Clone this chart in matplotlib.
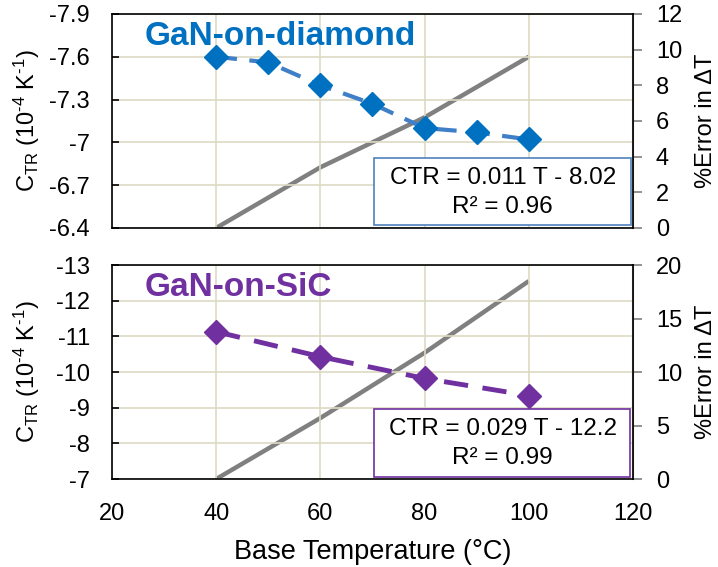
import matplotlib
matplotlib.use("Agg")
import matplotlib.pyplot as plt
from matplotlib.patches import Rectangle

plt.rcParams['font.family'] = ['Liberation Sans', 'DejaVu Sans']
plt.rcParams['mathtext.fontset'] = 'custom'
plt.rcParams['mathtext.rm'] = 'Liberation Sans'
plt.rcParams['mathtext.it'] = 'Liberation Sans:italic'

# ---- data ----
temp_dia = [40, 50, 60, 70, 80, 90, 100]
ctr_dia = [-7.60, -7.56, -7.40, -7.27, -7.10, -7.07, -7.02]
err_temp_dia = [40, 60, 80, 100]
err_dia = [0.0, 3.4, 6.2, 9.6]

temp_sic = [40, 60, 80, 100]
ctr_sic = [-11.13, -10.43, -9.82, -9.34]
err_temp_sic = [40, 60, 80, 100]
err_sic = [0.0, 5.7, 11.8, 18.5]

xticks = [20, 40, 60, 80, 100, 120]
yticks_dia = [-7.9, -7.6, -7.3, -7.0, -6.7, -6.4]
ylabels_dia = ['-7.9', '-7.6', '-7.3', '-7', '-6.7', '-6.4']
rticks_dia = [0, 2, 4, 6, 8, 10, 12]
yticks_sic = [-13, -12, -11, -10, -9, -8, -7]
rticks_sic = [0, 5, 10, 15, 20]

blue = '#0070C0'
blue_line = '#3F7FC8'
purple = '#7030A0'
gray = '#808080'
gridc = '#DDD9C3'
FS = 17

fig = plt.figure(figsize=(7.18, 5.67), dpi=100)
ax1 = fig.add_axes([0.156, 0.598, 0.7256, 0.3774])
ax2 = fig.add_axes([0.156, 0.1552, 0.7256, 0.3774])

def style(ax, yt, ylab, ylim, rt, rlim, show_x):
    ax.set_xlim(20, 120)
    ax.set_xticks(xticks)
    ax.set_ylim(*ylim)
    ax.set_yticks(yt)
    ax.set_yticklabels(ylab)
    ax.grid(True, color=gridc, lw=1.2)
    ax.set_axisbelow(True)
    ax.tick_params(axis='y', direction='in', length=5, width=1.2, labelsize=FS, pad=16)
    ax.tick_params(axis='x', length=0, labelsize=FS, pad=17)
    if not show_x:
        ax.tick_params(axis='x', labelbottom=False)
    for s in ax.spines.values():
        s.set_color('black')
        s.set_linewidth(1.2)
    ax.set_ylabel(r'C$_{\rm TR}$ (10$^{\rm \text{-}4}$ K$^{\rm \text{-}1}$)', fontsize=FS)
    axr = ax.twinx()
    axr.set_ylim(*rlim)
    axr.set_yticks(rt)
    axr.tick_params(axis='y', direction='out', length=6.5, width=1.2, labelsize=FS,
                    pad=10, color=gray)
    axr.spines['right'].set_color(gray)
    axr.spines['right'].set_linewidth(1.5)
    for s in ['top', 'left', 'bottom']:
        axr.spines[s].set_visible(False)
    axr.set_ylabel('%Error in ΔT', fontsize=FS, labelpad=9)
    return axr

ax1r = style(ax1, yticks_dia, ylabels_dia, (-6.4, -7.9), rticks_dia, (0, 12), False)
ax2r = style(ax2, yticks_sic, [str(v) for v in yticks_sic], (-7, -13), rticks_sic, (0, 20), True)
ax2.set_xlabel('Base Temperature (°C)', fontsize=19.5, labelpad=10)
ax1.yaxis.set_label_coords(-0.135, 0.5)
ax2.yaxis.set_label_coords(-0.135, 0.5)

# gray error lines
ax1r.plot(err_temp_dia, err_dia, color=gray, lw=3.2, solid_capstyle='butt', zorder=2)
ax2r.plot(err_temp_sic, err_sic, color=gray, lw=3.2, solid_capstyle='butt', zorder=2)

# primary axes on top of twins so diamonds/boxes overlay the gray lines
ax1r.set_zorder(ax1.get_zorder() - 1)
ax1.patch.set_visible(False)
ax2r.set_zorder(ax2.get_zorder() - 1)
ax2.patch.set_visible(False)

ax1.plot(temp_dia, ctr_dia, color=blue_line, lw=3, dashes=(5, 3), zorder=3)
ax1.plot(temp_dia, ctr_dia, ls='none', marker='D', ms=12.5, color=blue, zorder=4)
ax2.plot(temp_sic, ctr_sic, color=purple, lw=3.5, dashes=(5, 3), zorder=3)
ax2.plot(temp_sic, ctr_sic, ls='none', marker='D', ms=12.5, color=purple, zorder=4)

# Titles
ax1.text(0.063, 0.895, 'GaN-on-diamond', transform=ax1.transAxes, fontsize=24,
         fontweight='bold', color=blue, va='center', ha='left', zorder=5)
ax2.text(0.063, 0.895, 'GaN-on-SiC', transform=ax2.transAxes, fontsize=24,
         fontweight='bold', color=purple, va='center', ha='left', zorder=5)

# Equation boxes
ax1.add_patch(Rectangle((0.503, 0.014), 0.494, 0.313, transform=ax1.transAxes,
                        facecolor='white', edgecolor='#4F81BD', lw=1.2, zorder=6))
ax1.text(0.75, 0.235, 'CTR = 0.011 T - 8.02', transform=ax1.transAxes, fontsize=17.5,
         ha='center', va='center', zorder=7)
ax1.text(0.75, 0.098, 'R² = 0.96', transform=ax1.transAxes, fontsize=17.5,
         ha='center', va='center', zorder=7)
ax2.add_patch(Rectangle((0.503, 0.009), 0.492, 0.318, transform=ax2.transAxes,
                        facecolor='white', edgecolor=purple, lw=1.2, zorder=6))
ax2.text(0.75, 0.235, 'CTR = 0.029 T - 12.2', transform=ax2.transAxes, fontsize=17.5,
         ha='center', va='center', zorder=7)
ax2.text(0.75, 0.098, 'R² = 0.99', transform=ax2.transAxes, fontsize=17.5,
         ha='center', va='center', zorder=7)

fig.savefig('out.png', dpi=100)
